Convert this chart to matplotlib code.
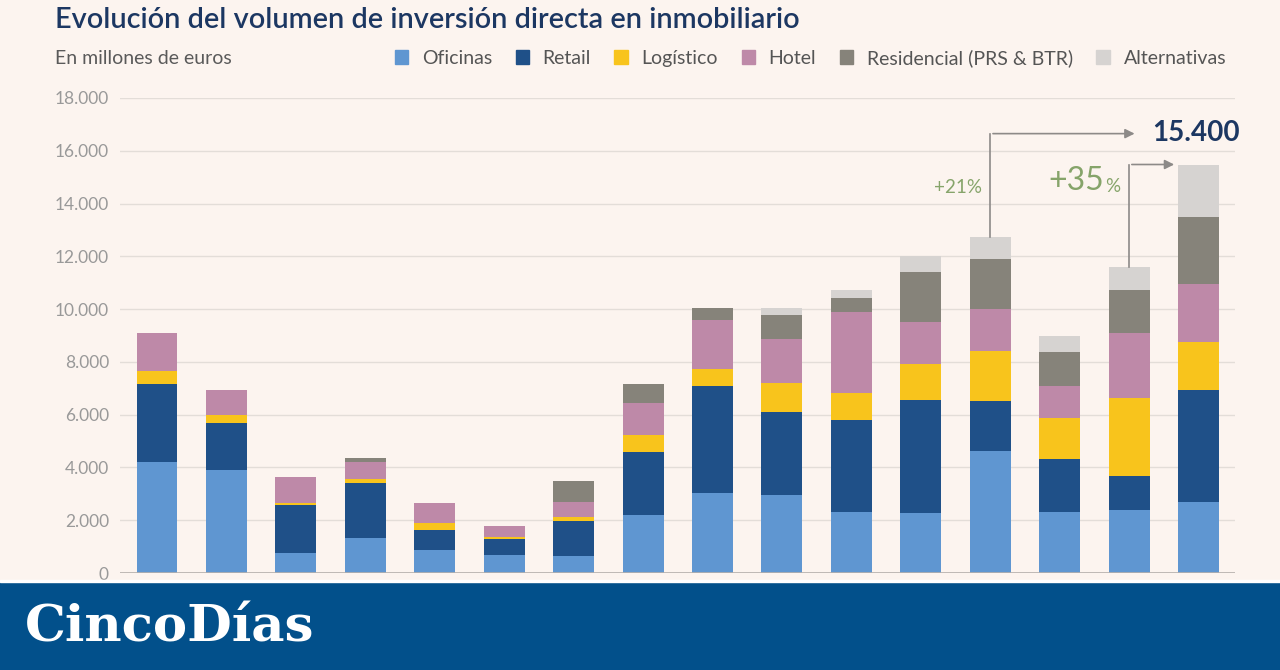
import matplotlib
matplotlib.use("Agg")
import matplotlib.pyplot as plt
from matplotlib.patches import Rectangle
import numpy as np

plt.rcParams['font.family'] = ['Lato', 'DejaVu Sans']

# datos (millones de euros)
years = list(range(2007, 2023))
oficinas = [4200, 3910, 750, 1340, 870, 680, 660, 2200, 3050, 2960, 2300, 2290, 4630, 2330, 2390, 2680]
retail = [2970, 1770, 1830, 2060, 760, 610, 1320, 2400, 4020, 3160, 3480, 4270, 1900, 1990, 1300, 4260]
logistico = [500, 320, 90, 150, 280, 90, 160, 640, 660, 1080, 1040, 1370, 1890, 1570, 2940, 1810]
hotel = [1420, 940, 980, 670, 730, 400, 560, 1220, 1840, 1670, 3060, 1600, 1580, 1200, 2460, 2200]
residencial = [0, 0, 0, 150, 0, 0, 800, 710, 490, 920, 540, 1880, 1910, 1270, 1650, 2530]
alternativas = [0, 0, 0, 0, 0, 0, 0, 0, 0, 270, 320, 620, 810, 630, 860, 2000]

series = [oficinas, retail, logistico, hotel, residencial, alternativas]
names = ["Oficinas", "Retail", "Logístico", "Hotel", "Residencial (PRS & BTR)", "Alternativas"]
colors = ["#5f96d1", "#1f5088", "#f8c41c", "#be89a8", "#86837a", "#d6d3d1"]

yticks = [0, 2000, 4000, 6000, 8000, 10000, 12000, 14000, 16000, 18000]
ytick_labels = ["0", "2.000", "4.000", "6.000", "8.000", "10.000", "12.000", "14.000", "16.000", "18.000"]

bg = "#fcf4ef"
fig = plt.figure(figsize=(12.8, 6.7), dpi=100, facecolor=bg)
ax = fig.add_axes([120/1280, 97/670, 1115/1280, 475/670])
ax.set_facecolor(bg)

x = np.arange(len(years))
bottom = np.zeros(len(years))
for vals, name, col in zip(series, names, colors):
    v = np.array(vals, dtype=float)
    ax.bar(x, v, bottom=bottom, width=0.59, color=col, label=name, zorder=3)
    bottom += v
totals = bottom

ax.set_xlim(-0.533, 15.526)
ax.set_ylim(0, 18000)
ax.set_yticks(yticks)
ax.set_yticklabels(ytick_labels)
ax.set_xticks([])
ax.tick_params(axis='y', length=0, pad=8, labelsize=12.5, labelcolor="#999999")
for s in ax.spines.values():
    s.set_visible(False)
ax.grid(axis='y', color="#e3ddd8", linewidth=1, zorder=0)
ax.axhline(0, color="#b5b0ac", linewidth=1.2, zorder=4)

# flechas de variacion
arrow_col = "#8d8a88"
y1 = 16650
ax.plot([12, 12], [totals[12], y1], color=arrow_col, lw=1.2, zorder=5)
ax.annotate("", xy=(14.12, y1), xytext=(12, y1),
            arrowprops=dict(arrowstyle="-|>", color=arrow_col, lw=1.2, mutation_scale=14))
y2 = totals[15]
ax.plot([14, 14], [totals[14], y2], color=arrow_col, lw=1.2, zorder=5)
ax.annotate("", xy=(14.69, y2), xytext=(14, y2),
            arrowprops=dict(arrowstyle="-|>", color=arrow_col, lw=1.2, mutation_scale=14))

ax.text(14.33, y1 + 30, "15.400", fontsize=20, fontweight='bold', color="#1c3762",
        ha='left', va='center')
green = "#86a46a"
ax.text(11.88, 14600, "+21%", fontsize=13.5, color=green, ha='right', va='center')
ax.text(13.64, 14850, "+35", fontsize=23, color=green, ha='right', va='center')
ax.text(13.66, 14650, "%", fontsize=13.5, color=green, ha='left', va='center')

# titulo y subtitulo
fig.text(55/1280, 1 - 20/670, "Evolución del volumen de inversión directa en inmobiliario",
         fontsize=20.8, fontweight='semibold', color="#1c3762", ha='left', va='center')
fig.text(55/1280, 1 - 58/670, "En millones de euros", fontsize=14, color="#5a5a5a",
         ha='left', va='center')

handles = [Rectangle((0, 0), 1, 1, color=c) for c in colors]
leg = fig.legend(handles, names, loc='center right', bbox_to_anchor=(1234/1280, 1 - 58/670),
                 ncol=6, frameon=False, fontsize=14, handlelength=0.7, handleheight=0.7,
                 handletextpad=0.7, columnspacing=1.2, borderaxespad=0)
for t in leg.get_texts():
    t.set_color("#555555")

# banda inferior
fig.patches.append(Rectangle((0, 0), 1, 88/670, transform=fig.transFigure,
                             color="#02508b", zorder=10))
fig.patches.append(Rectangle((0, 88/670), 1, 2/670, transform=fig.transFigure,
                             color="#ffffff", zorder=10))
fig.text(25/1280, 42/670, "CincoDías", fontsize=37, fontweight='bold', color="white",
         family="DejaVu Serif", ha='left', va='center', zorder=11)

fig.savefig("out.png", dpi=100, facecolor=bg)
